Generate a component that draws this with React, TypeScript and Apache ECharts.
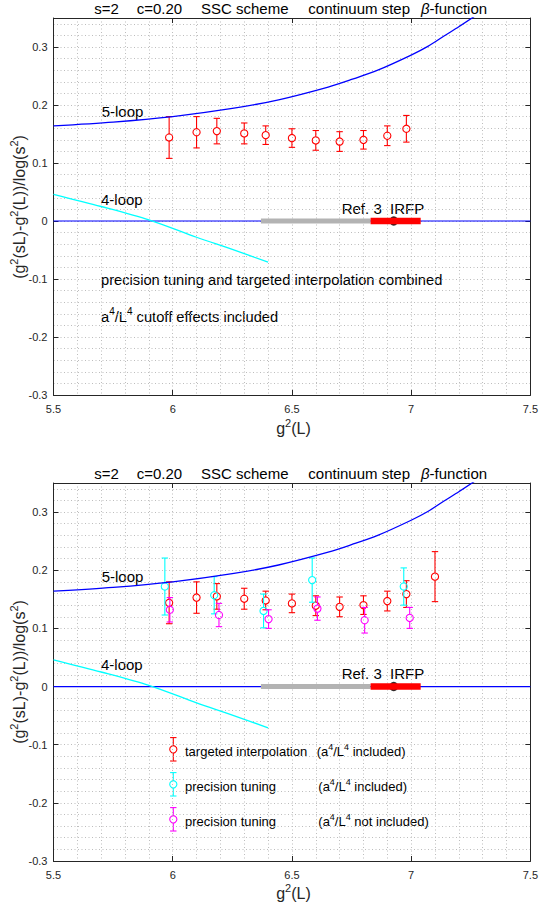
import React, { useEffect, useRef } from 'react';
import * as echarts from 'echarts';

// ---------- data ----------
const xRange = [5.5, 7.5];
const yRange = [-0.3, 0.35];

// targeted interpolation (a^4/L^4 included) – top plot uses first 11 (combined)
const tiG2 = [5.985, 6.1, 6.185, 6.3, 6.39, 6.5, 6.6, 6.7, 6.8, 6.9, 6.98, 7.1];
const tiVal = [0.144, 0.153, 0.155, 0.151, 0.148, 0.143, 0.139, 0.137, 0.14, 0.147, 0.159, 0.189];
const tiErr = [0.036, 0.027, 0.022, 0.018, 0.016, 0.016, 0.017, 0.017, 0.016, 0.017, 0.023, 0.043];

// precision tuning (a^4/L^4 included)
const ptG2 = [5.967, 6.174, 6.381, 6.585, 6.969];
const ptVal = [0.172, 0.157, 0.13, 0.183, 0.172];
const ptErr = [0.049, 0.032, 0.029, 0.038, 0.032];

// precision tuning (a^4/L^4 not included)
const pnG2 = [5.988, 6.194, 6.402, 6.607, 6.805, 6.994];
const pnVal = [0.132, 0.123, 0.116, 0.134, 0.114, 0.118];
const pnErr = [0.021, 0.02, 0.016, 0.02, 0.022, 0.018];

// perturbative curves
const loop5G2 = [5.5, 5.75, 6.0, 6.25, 6.444, 6.652, 6.75, 6.86, 7.0, 7.07, 7.138, 7.2, 7.27];
const loop5Val = [0.164, 0.1705, 0.18, 0.194, 0.209, 0.231, 0.244, 0.26, 0.286, 0.301, 0.319, 0.335, 0.354];
const loop4G2 = [5.5, 5.7, 5.9, 6.1, 6.25, 6.4];
const loop4Val = [0.046, 0.025, 0.002, -0.028, -0.049, -0.071];

// Ref. 3 IRFP band
const refGray = [6.37, 6.83];
const refRed = [6.83, 7.04];
const refPoint = 6.927;

const FONT = '"Liberation Sans", Arial, Helvetica, sans-serif';
const AXC = '#262626';
const GRIDC = '#bdbdbd';

function errRender(color: string) {
  return (params: any, api: any) => {
    const x = api.value(0), y = api.value(1), e = api.value(2);
    const c = api.coord([x, y]);
    const t = api.coord([x, y + e]);
    const b = api.coord([x, y - e]);
    const r = 3.6, cap = 3.2;
    const st = { stroke: color, lineWidth: 1.1, fill: null };
    return {
      type: 'group',
      children: [
        { type: 'line', shape: { x1: c[0], y1: t[1], x2: c[0], y2: c[1] - r }, style: st },
        { type: 'line', shape: { x1: c[0], y1: c[1] + r, x2: c[0], y2: b[1] }, style: st },
        { type: 'line', shape: { x1: c[0] - cap, y1: t[1], x2: c[0] + cap, y2: t[1] }, style: st },
        { type: 'line', shape: { x1: c[0] - cap, y1: b[1], x2: c[0] + cap, y2: b[1] }, style: st },
        { type: 'circle', shape: { cx: c[0], cy: c[1], r }, style: { stroke: color, fill: 'none', lineWidth: 1.1 } },
      ],
    };
  };
}

const dotted = { type: [1, 2.5] as any, color: GRIDC, width: 1 };

function axesFor(gi: number) {
  const xs = [
    {
      gridIndex: gi, type: 'value', min: xRange[0], max: xRange[1], interval: 0.5, position: 'bottom',
      axisLine: { show: true, onZero: false, lineStyle: { color: AXC, width: 1 } },
      axisTick: { show: true, inside: true, length: 5, lineStyle: { color: AXC } },
      axisLabel: { show: true, color: AXC, fontSize: 11, fontFamily: FONT, margin: 8 },
      splitLine: { show: true, lineStyle: dotted },
      minorTick: { show: false, splitNumber: 5 },
      minorSplitLine: { show: true, lineStyle: dotted },
    },
    {
      gridIndex: gi, type: 'value', min: xRange[0], max: xRange[1], interval: 0.5, position: 'top',
      axisLine: { show: true, onZero: false, lineStyle: { color: AXC, width: 1 } },
      axisTick: { show: true, inside: true, length: 5, lineStyle: { color: AXC } },
      axisLabel: { show: false }, splitLine: { show: false },
    },
  ];
  const ys = [
    {
      gridIndex: gi, type: 'value', min: yRange[0], max: yRange[1], interval: 0.1, position: 'left',
      axisLine: { show: true, onZero: false, lineStyle: { color: AXC, width: 1 } },
      axisTick: { show: true, inside: true, length: 5, lineStyle: { color: AXC } },
      axisLabel: { show: true, color: AXC, fontSize: 11, fontFamily: FONT, margin: 6, showMaxLabel: false },
      splitLine: { show: false },
    },
    {
      gridIndex: gi, type: 'value', min: yRange[0], max: yRange[1], interval: 0.1, position: 'right',
      axisLine: { show: true, onZero: false, lineStyle: { color: AXC, width: 1 } },
      axisTick: { show: true, inside: true, length: 5, lineStyle: { color: AXC } },
      axisLabel: { show: false }, splitLine: { show: false },
    },
    {
      gridIndex: gi, type: 'value', min: yRange[0], max: yRange[1], interval: 0.02, position: 'left',
      axisLine: { show: false }, axisTick: { show: false }, axisLabel: { show: false },
      splitLine: { show: true, lineStyle: dotted },
    },
  ];
  return { xs, ys };
}

function baseSeries(gi: number) {
  const xi = gi * 2, yi = gi * 3;
  const common = { xAxisIndex: xi, yAxisIndex: yi, silent: true };
  return [
    { ...common, type: 'line', data: [[xRange[0], 0], [xRange[1], 0]], symbol: 'none', lineStyle: { color: '#0000ff', width: 1.2 } },
    { ...common, type: 'line', smooth: 0.3, data: loop5G2.map((g, i) => [g, loop5Val[i]]), symbol: 'none', lineStyle: { color: '#0000ff', width: 1.3 } },
    { ...common, type: 'line', smooth: 0.3, data: loop4G2.map((g, i) => [g, loop4Val[i]]), symbol: 'none', lineStyle: { color: '#00ffff', width: 1.3 } },
    { ...common, type: 'line', data: refGray.map((g) => [g, 0]), symbol: 'none', lineStyle: { color: '#b3b3b3', width: 5 } },
    { ...common, type: 'line', data: refRed.map((g) => [g, 0]), symbol: 'none', lineStyle: { color: '#ff0000', width: 6.5 } },
    { ...common, type: 'scatter', data: [[refPoint, 0]], symbol: 'circle', symbolSize: 7.5, itemStyle: { color: '#ff0000', borderColor: '#000', borderWidth: 1.8 } },
  ];
}

function errSeries(gi: number, g2: number[], val: number[], err: number[], color: string) {
  return {
    type: 'custom', xAxisIndex: gi * 2, yAxisIndex: gi * 3, silent: true,
    renderItem: errRender(color),
    data: g2.map((g, i) => [g, val[i], err[i]]),
    encode: { x: 0, y: 1 },
    clip: true,
  };
}

const supRich = (fs: number, color: string, lh: number) => ({
  s: { fontSize: Math.round(fs * 0.7), fontFamily: FONT, fill: color, verticalAlign: 'top', lineHeight: lh },
  b: { fontSize: fs, fontFamily: FONT, fill: color, fontStyle: 'italic', lineHeight: lh },
});

function txt(x: number, y: number, text: string, fs: number, color = '#000', extra: any = {}) {
  return {
    type: 'text', x, y, silent: true, ...extra,
    style: {
      text, fontSize: fs, fontFamily: FONT, fill: color, align: extra.align || 'left', verticalAlign: 'middle',
      lineHeight: fs + 5, rich: supRich(fs, color, fs + 5),
    },
  };
}

function legendIcon(x: number, y: number, color: string) {
  const h = 11.7, cap = 3.2, r = 3.6;
  const st = { stroke: color, lineWidth: 1.1, fill: null };
  return {
    type: 'group', silent: true,
    children: [
      { type: 'line', shape: { x1: x, y1: y - h, x2: x, y2: y - r }, style: st },
      { type: 'line', shape: { x1: x, y1: y + r, x2: x, y2: y + h }, style: st },
      { type: 'line', shape: { x1: x - cap, y1: y - h, x2: x + cap, y2: y - h }, style: st },
      { type: 'line', shape: { x1: x - cap, y1: y + h, x2: x + cap, y2: y + h }, style: st },
      { type: 'circle', shape: { cx: x, cy: y, r }, style: { stroke: color, fill: 'none', lineWidth: 1.1 } },
    ],
  };
}

function titleTexts(y: number) {
  return [
    txt(94.3, y, 's=2', 15),
    txt(136.7, y, 'c=0.20', 15),
    txt(201, y, 'SSC scheme', 15),
    txt(308.3, y, 'continuum step', 15),
    txt(421, y, '{b|β}-function', 15),
  ];
}

function plotTexts(off: number) {
  return [
    ...titleTexts(8.5 + off),
    txt(101.7, 111.7 + off, '5-loop', 15),
    txt(101, 199.3 + off, '4-loop', 15),
    txt(341.7, 208 + off, 'Ref. 3  IRFP', 15),
    txt(19, 207 + off, '(g{s|2}(sL)-g{s|2}(L))/log(s{s|2})', 16, AXC, { rotation: Math.PI / 2, align: 'center' }),
    txt(293.5, 428 + off, 'g{s|2}(L)', 16, AXC, { align: 'center' }),
  ];
}

export default function App() {
  const ref = useRef<HTMLDivElement>(null);
  useEffect(() => {
    if (!ref.current) return;
    const chart = echarts.init(ref.current, undefined, { renderer: 'svg' });
    const a0 = axesFor(0), a1 = axesFor(1);
    const option: any = {
      animation: false,
      backgroundColor: '#ffffff',
      grid: [
        { left: 53.5, top: 18, width: 480, height: 377, show: false },
        { left: 53.5, top: 483, width: 480, height: 378, show: false },
      ],
      xAxis: [...a0.xs, ...a1.xs],
      yAxis: [...a0.ys, ...a1.ys],
      series: [
        ...baseSeries(0),
        errSeries(0, tiG2.slice(0, 11), tiVal.slice(0, 11), tiErr.slice(0, 11), '#ff0000'),
        ...baseSeries(1),
        errSeries(1, tiG2, tiVal, tiErr, '#ff0000'),
        errSeries(1, ptG2, ptVal, ptErr, '#00ffff'),
        errSeries(1, pnG2, pnVal, pnErr, '#ff00ff'),
      ],
      graphic: [
        ...plotTexts(0),
        txt(101, 280, 'precision tuning and targeted interpolation combined', 14.7),
        txt(101, 316.7, 'a{s|4}/L{s|4} cutoff effects included', 14.7),
        ...plotTexts(465),
        legendIcon(173.3, 749.3, '#ff0000'),
        legendIcon(173.3, 784.3, '#00ffff'),
        legendIcon(173.3, 819.3, '#ff00ff'),
        txt(185, 751, 'targeted interpolation', 13),
        txt(316.7, 751, '(a{s|4}/L{s|4} included)', 13),
        txt(185, 786, 'precision tuning', 13),
        txt(318.3, 786, '(a{s|4}/L{s|4} included)', 13),
        txt(185, 821, 'precision tuning', 13),
        txt(318.3, 821, '(a{s|4}/L{s|4} not included)', 13),
      ],
    };
    chart.setOption(option);
    return () => chart.dispose();
  }, []);
  return (
    <div
      ref={ref}
      style={{ position: 'absolute', left: 0, top: 0, width: 541, height: 913, background: '#fff' }}
    />
  );
}
